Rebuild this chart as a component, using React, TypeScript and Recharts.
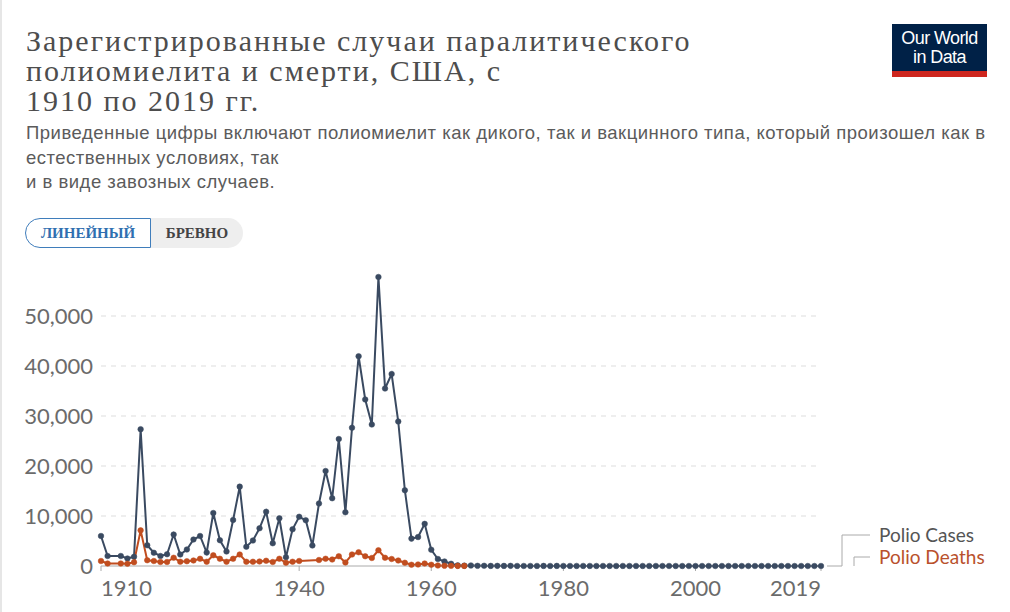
import React from "react";
import { LineChart, Line, XAxis, YAxis, CartesianGrid } from "recharts";

// Первый год ряда; каждый элемент массивов ниже — один год подряд
const FIRST_YEAR = 1910;

// Случаи паралитического полиомиелита, 1910–2019 (null — нет данных)
const polioCases: (number | null)[] = [
  6000, 2000, null, 2000, 1500, 1850, 27360, 4150, 2650, 2000, // 1910-1919
  2350, 6300, 2300, 3300, 5300, 6000, 2700, 10600, 5150, 2900, // 1920-1929
  9200, 15870, 3850, 5100, 7550, 10850, 4550, 9550, 1750, 7350, // 1930-1939
  9850, 9150, 4100, 12500, 19000, 13550, 25400, 10750, 27650, 41950, // 1940-1949
  33300, 28300, 57800, 35500, 38400, 28900, 15150, 5480, 5790, 8430, // 1950-1959
  3250, 1400, 910, 450, 120, 70, 110, 40, 50, 20, // 1960-1969
  30, 20, 30, 8, 7, 13, 10, 19, 8, 22, // 1970-1979
  9, 10, 12, 13, 9, 8, 10, 9, 10, 11, // 1980-1989
  6, 10, 6, 4, 8, 7, 7, 6, 1, 0, // 1990-1999
  0, 0, 0, 0, 0, 1, 0, 0, 0, 0, // 2000-2009
  0, 0, 0, 0, 0, 0, 0, 0, 0, 0, // 2010-2019
];

// Смерти от полиомиелита, 1910–1965
const polioDeaths: (number | null)[] = [
  1000, 500, null, 500, 450, 750, 7130, 1150, 1000, 800, // 1910-1919
  800, 1650, 850, 950, 1100, 1450, 850, 2150, 1450, 850, // 1920-1929
  1450, 2300, 850, 850, 900, 1050, 800, 1450, 650, 850, // 1930-1939
  1000, null, null, 1200, 1450, 1300, 1950, 700, 2300, 2750, // 1940-1949
  1950, 1600, 3150, 1650, 1400, 1100, 650, 250, 300, 500, // 1950-1959
  250, 100, 60, 40, 17, 16, // 1960-1965
];

const xTicks = [1910, 1940, 1960, 1980, 2000, 2019];
const yTicks = [0, 10000, 20000, 30000, 40000, 50000];

const title = [
  "Зарегистрированные случаи паралитического",
  "полиомиелита и смерти, США, с",
  "1910 по 2019 гг.",
];
const subtitle = [
  "Приведенные цифры включают полиомиелит как дикого, так и вакцинного типа, который произошел как в",
  "естественных условиях, так",
  "и в виде завозных случаев.",
];

const CASES_COLOR = "#3a4a61";
const DEATHS_COLOR = "#c14d1f";

const data = polioCases.map((c, i) => ({
  year: FIRST_YEAR + i,
  cases: c,
  deaths: i < polioDeaths.length ? polioDeaths[i] : undefined,
}));

const fmt = (v: number) => v.toLocaleString("en-US");

function XTick(props: any) {
  const { x, y, payload } = props;
  const first = payload.value === xTicks[0];
  const last = payload.value === xTicks[xTicks.length - 1];
  return (
    <text
      x={x}
      y={y}
      dy={23}
      textAnchor={first ? "start" : last ? "end" : "middle"}
      fill="#6b6b6b"
      fontSize={22}
      fontFamily="Lato, 'Noto Sans', sans-serif"
    >
      {payload.value}
    </text>
  );
}

function YTick(props: any) {
  const { y, payload } = props;
  return (
    <text
      x={93}
      y={y}
      dy="0.35em"
      textAnchor="end"
      fill="#6b6b6b"
      fontSize={22}
      fontFamily="Lato, 'Noto Sans', sans-serif"
    >
      {fmt(payload.value)}
    </text>
  );
}

export default function App() {
  return (
    <div
      style={{
        position: "absolute",
        left: 0,
        top: 0,
        width: 1010,
        height: 612,
        background: "#fff",
        overflow: "hidden",
        boxSizing: "border-box",
        borderLeft: "2px solid #e6e6e6",
        fontFamily: "Lato, 'Noto Sans', sans-serif",
      }}
    >
      {/* Заголовок */}
      <div
        style={{
          position: "absolute",
          left: 24,
          top: 26,
          fontFamily: "'Liberation Serif', serif",
          fontSize: 30,
          lineHeight: "30px",
          color: "#4d4d4d",
          letterSpacing: 2,
        }}
      >
        {title.map((t) => (
          <div key={t}>{t}</div>
        ))}
      </div>

      {/* Подзаголовок */}
      <div
        style={{
          position: "absolute",
          left: 24,
          top: 121,
          fontFamily: "'Liberation Sans', sans-serif",
          fontSize: 18.5,
          lineHeight: "24.5px",
          letterSpacing: 0.5,
          color: "#5b5b5b",
        }}
      >
        {subtitle.map((t) => (
          <div key={t}>{t}</div>
        ))}
      </div>

      {/* Логотип */}
      <div
        style={{
          position: "absolute",
          left: 890,
          top: 24,
          width: 95,
          height: 53,
          background: "#002147",
          color: "#fff",
          fontFamily: "'Liberation Sans', sans-serif",
          fontSize: 18,
          lineHeight: "19px",
          letterSpacing: -0.6,
          textAlign: "center",
          paddingTop: 5,
          boxSizing: "border-box",
          borderBottom: "6px solid #ce261e",
        }}
      >
        <div>Our World</div>
        <div>in Data</div>
      </div>

      {/* Переключатель */}
      <div
        style={{
          position: "absolute",
          left: 23,
          top: 218,
          height: 30,
          display: "flex",
          fontFamily: "'Liberation Serif', serif",
          fontWeight: "bold",
          fontSize: 15,
        }}
      >
        <div
          style={{
            width: 126,
            height: 30,
            boxSizing: "border-box",
            border: "1px solid #3f7dbb",
            borderRadius: "15px 0 0 15px",
            color: "#2f6fb0",
            display: "flex",
            alignItems: "center",
            justifyContent: "center",
            background: "#fff",
          }}
        >
          ЛИНЕЙНЫЙ
        </div>
        <div
          style={{
            width: 92,
            height: 30,
            boxSizing: "border-box",
            borderRadius: "0 15px 15px 0",
            color: "#444",
            display: "flex",
            alignItems: "center",
            justifyContent: "center",
            background: "#eeeeee",
          }}
        >
          БРЕВНО
        </div>
      </div>

      {/* График */}
      <div style={{ position: "absolute", left: -2, top: 260 }}>
        <LineChart
          width={1010}
          height={352}
          data={data}
          margin={{ top: 17, right: 189, left: 0, bottom: 16 }}
        >
          <CartesianGrid
            vertical={false}
            stroke="#dddddd"
            strokeDasharray="5 5"
            horizontalValues={yTicks.slice(1)}
          />
          <XAxis
            dataKey="year"
            type="number"
            domain={[1910, 2019]}
            ticks={xTicks}
            interval={0}
            height={30}
            axisLine={{ stroke: "#aaaaaa" }}
            tickLine={{ stroke: "#aaaaaa" }}
            tickSize={5}
            tick={<XTick />}
          />
          <YAxis
            width={101}
            domain={[0, "dataMax"]}
            ticks={yTicks}
            interval={0}
            axisLine={false}
            tickLine={false}
            tick={<YTick />}
          />
          <Line
            dataKey="cases"
            stroke={CASES_COLOR}
            strokeWidth={2}
            connectNulls
            dot={{ r: 2.8, fill: CASES_COLOR, stroke: CASES_COLOR, strokeWidth: 0.5 }}
            isAnimationActive={false}
          />
          <Line
            dataKey="deaths"
            stroke={DEATHS_COLOR}
            strokeWidth={2}
            connectNulls
            dot={{ r: 2.8, fill: DEATHS_COLOR, stroke: DEATHS_COLOR, strokeWidth: 0.5 }}
            isAnimationActive={false}
          />
        </LineChart>
      </div>

      {/* Подписи серий */}
      <svg
        style={{ position: "absolute", left: -2, top: 0 }}
        width={1010}
        height={612}
      >
        <polyline points="827,566 842,566 842,535 870,535" fill="none" stroke="#aaa" strokeWidth={1} />
        <polyline points="854,566 854,557 870,557" fill="none" stroke="#aaa" strokeWidth={1} />
        <text x={879} y={535} dy="0.35em" fontSize={19} fill="#555" fontFamily="Lato, 'Noto Sans', sans-serif">
          Polio Cases
        </text>
        <text x={879} y={557} dy="0.35em" fontSize={19} fill="#b9512c" fontFamily="Lato, 'Noto Sans', sans-serif">
          Polio Deaths
        </text>
      </svg>
    </div>
  );
}
